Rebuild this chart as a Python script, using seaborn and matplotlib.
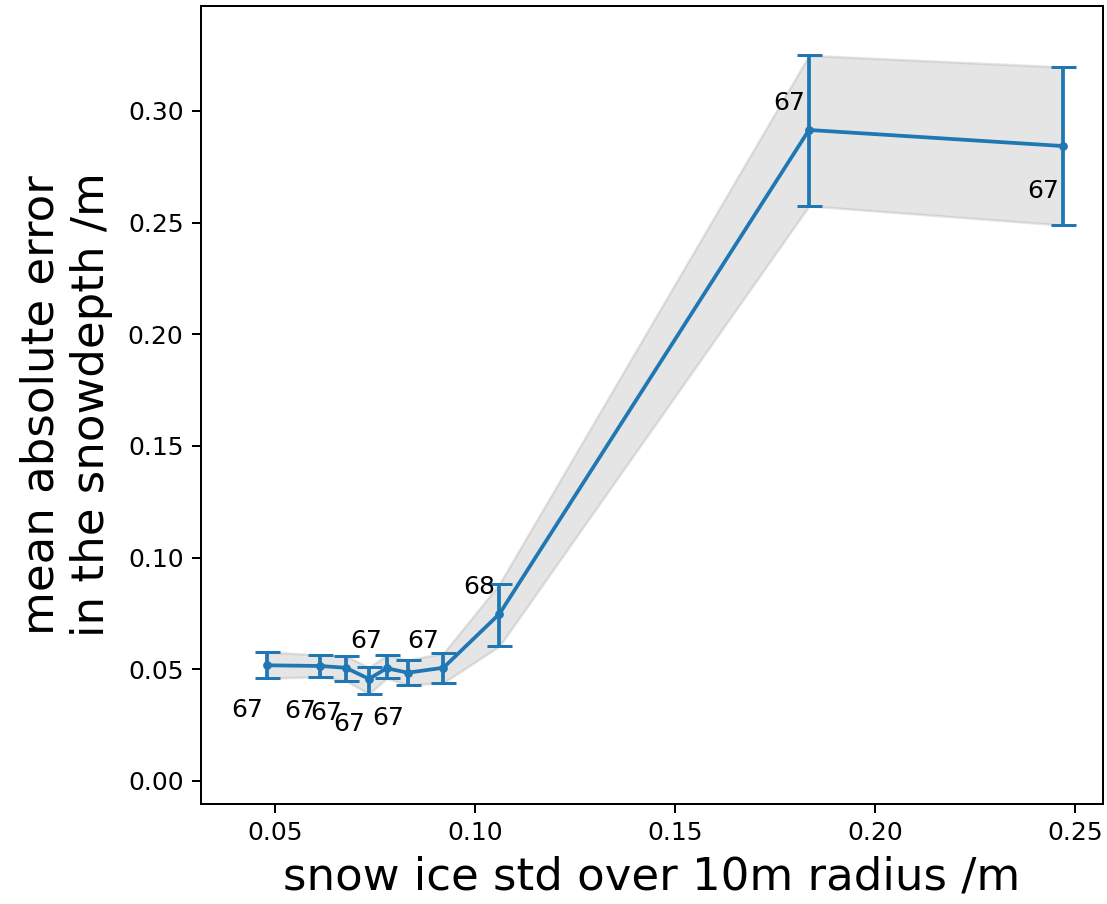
import matplotlib
matplotlib.use("Agg")
import matplotlib.pyplot as plt
import seaborn as sns
import numpy as np
import pandas as pd

# data
std_x = [0.0481, 0.0613, 0.0677, 0.0735, 0.0779, 0.0832, 0.0921, 0.1061, 0.1835, 0.2470]
mae = [0.0518, 0.0515, 0.0507, 0.0457, 0.0505, 0.0485, 0.0507, 0.0748, 0.2915, 0.2843]
err_low = [0.0460, 0.0467, 0.0449, 0.0390, 0.0460, 0.0430, 0.0440, 0.0604, 0.2575, 0.2489]
err_high = [0.0578, 0.0564, 0.0560, 0.0509, 0.0564, 0.0542, 0.0572, 0.0882, 0.3249, 0.3197]
counts = ["67", "67", "67", "67", "67", "67", "67", "68", "67", "67"]
label_above = [False, False, False, False, True, False, True, True, True, False]

df = pd.DataFrame({"x": std_x, "y": mae, "lo": err_low, "hi": err_high})

sns.set_style("ticks")
plt.rcParams["font.family"] = ["DejaVu Sans"]
plt.rcParams["text.color"] = "black"
plt.rcParams["axes.labelcolor"] = "black"

dpi = 180
fig = plt.figure(figsize=(1107 / dpi, 904 / dpi), dpi=dpi)
ax = fig.add_axes([201 / 1107, 1 - 804 / 904, (1103 - 201) / 1107, (804 - 6) / 904])

ax.fill_between(df["x"], df["lo"], df["hi"], color="grey", alpha=0.2)
yerr = np.vstack([df["y"] - df["lo"], df["hi"] - df["y"]])
ax.errorbar(df["x"], df["y"], yerr=yerr, fmt="none", ecolor="#1f77b4",
            elinewidth=1.5, capsize=5, capthick=1.2)
sns.lineplot(data=df, x="x", y="y", ax=ax, color="#1f77b4", linewidth=1.5,
             marker="o", markersize=3.5, markeredgewidth=0, sort=False)

for xi, yi, c, up in zip(df["x"], df["y"], counts, label_above):
    ax.annotate(c, (xi, yi), xytext=(-8, 10.8 if up else -18), textcoords="offset points",
                ha="center", va="center", fontsize=10, color="black")

ax.set_xlim(0.0315, 0.257)
ax.set_ylim(-0.0103, 0.347)
ax.set_xticks([0.05, 0.10, 0.15, 0.20, 0.25])
ax.set_yticks([0.00, 0.05, 0.10, 0.15, 0.20, 0.25, 0.30])
ax.tick_params(labelsize=10, length=3.5, width=0.8, colors="black")
for s in ax.spines.values():
    s.set_color("black")
    s.set_linewidth(0.8)
ax.set_xlabel("snow ice std over 10m radius /m", fontsize=18, color="black")
ax.set_ylabel("mean absolute error\nin the snowdepth /m", fontsize=18, color="black", labelpad=6)

fig.savefig("out.png", dpi=dpi)
